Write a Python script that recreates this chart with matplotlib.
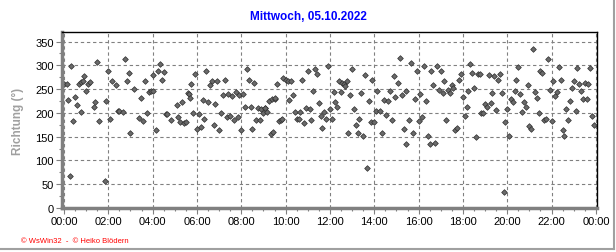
import numpy as np
import matplotlib
matplotlib.use("Agg")
import matplotlib.pyplot as plt
from matplotlib.ticker import MultipleLocator, FuncFormatter

#********************************************#
# wind direction readings (hour of day, degrees)
hours = [0.0, 0.12, 0.18, 0.28, 0.33, 0.42, 0.5, 0.6, 0.67, 0.76, 0.78, 0.84, 0.91, 1.0,
         1.07, 1.19, 1.34, 1.4, 1.49, 1.58, 1.85, 1.9, 1.99, 2.07, 2.16, 2.34, 2.43, 2.48,
         2.66, 2.75, 2.84, 2.93, 2.97, 3.15, 3.4, 3.49, 3.55, 3.64, 3.73, 3.82, 3.91, 4.0,
         4.03, 4.13, 4.22, 4.31, 4.4, 4.49, 4.6, 4.65, 4.82, 5.1, 5.14, 5.23, 5.32, 5.41,
         5.5, 5.59, 5.64, 5.68, 5.73, 5.82, 5.91, 6.0, 6.09, 6.18, 6.27, 6.32, 6.41, 6.5,
         6.59, 6.68, 6.77, 6.82, 6.91, 7.0, 7.09, 7.18, 7.27, 7.36, 7.41, 7.5, 7.59, 7.68,
         7.77, 7.86, 7.91, 8.0, 8.09, 8.18, 8.27, 8.36, 8.45, 8.5, 8.59, 8.68, 8.77, 8.86,
         8.91, 9.0, 9.05, 9.09, 9.18, 9.27, 9.36, 9.4, 9.45, 9.5, 9.53, 9.62, 9.71, 9.8,
         9.85, 9.89, 10.0, 10.09, 10.14, 10.23, 10.32, 10.41, 10.5, 10.59, 10.64, 10.73,
         10.82, 10.91, 11.0, 11.09, 11.14, 11.23, 11.32, 11.41, 11.5, 11.59, 11.64, 11.73,
         11.82, 11.91, 12.0, 12.09, 12.18, 12.23, 12.32, 12.41, 12.5, 12.55, 12.64, 12.68,
         12.77, 12.82, 12.91, 13.0, 13.09, 13.18, 13.27, 13.32, 13.41, 13.5, 13.59, 13.68,
         13.77, 13.86, 13.91, 14.0, 14.09, 14.12, 14.26, 14.36, 14.45, 14.55, 14.64, 14.73,
         14.82, 14.91, 14.95, 15.05, 15.14, 15.23, 15.32, 15.41, 15.45, 15.55, 15.64, 15.73,
         15.82, 15.91, 16.0, 16.05, 16.14, 16.23, 16.32, 16.41, 16.5, 16.55, 16.64, 16.73,
         16.82, 16.91, 17.0, 17.09, 17.14, 17.23, 17.32, 17.41, 17.5, 17.55, 17.64, 17.73,
         17.82, 17.91, 18.0, 18.09, 18.18, 18.23, 18.32, 18.41, 18.5, 18.59, 18.68, 18.77,
         18.82, 18.91, 19.0, 19.09, 19.18, 19.28, 19.33, 19.42, 19.51, 19.6, 19.69, 19.78,
         19.87, 19.91, 20.0, 20.09, 20.18, 20.27, 20.36, 20.4, 20.49, 20.58, 20.67, 20.76,
         20.85, 20.94, 21.0, 21.07, 21.16, 21.25, 21.34, 21.43, 21.48, 21.57, 21.66, 21.75,
         21.84, 21.93, 22.03, 22.07, 22.15, 22.24, 22.33, 22.42, 22.51, 22.55, 22.64, 22.73,
         22.82, 22.91, 23.0, 23.09, 23.13, 23.22, 23.31, 23.4, 23.49, 23.58, 23.63, 23.72,
         23.81, 23.9]
richtung = [261, 260, 228, 68, 298, 182, 234, 216, 260, 265, 201, 268, 277, 247,
            260, 264, 213, 222, 306, 182, 57, 224, 289, 187, 266, 258, 204, 204,
            201, 313, 268, 283, 158, 251, 189, 232, 182, 268, 199, 244, 245, 279,
            245, 163, 289, 302, 270, 285, 197, 198, 185, 216, 192, 180, 223, 179,
            181, 242, 240, 232, 260, 199, 281, 167, 197, 171, 226, 188, 289, 222,
            258, 268, 175, 218, 268, 163, 199, 237, 270, 192, 240, 193, 235, 186,
            243, 192, 237, 163, 239, 213, 292, 270, 213, 166, 262, 186, 211, 184,
            209, 199, 211, 211, 202, 224, 156, 229, 159, 230, 232, 260, 182, 186,
            187, 273, 270, 267, 228, 266, 237, 201, 188, 188, 201, 270,
            178, 211, 289, 209, 186, 247, 292, 281, 220, 194, 169, 202,
            188, 298, 209, 188, 243, 222, 213, 266, 243, 263, 260, 256,
            268, 158, 237, 292, 209, 175, 158, 188, 241, 152, 279, 85,
            224, 180, 270, 180, 203, 247, 203, 158, 226, 196, 224, 245,
            186, 277, 234, 263, 315, 237, 167, 135, 247, 184, 304, 158,
            230, 289, 182, 239, 192, 298, 224, 152, 135, 289, 258, 137,
            298, 249, 289, 241, 268, 186, 249, 241, 258, 252, 164, 168,
            270, 281, 234, 194, 213, 247, 302, 283, 253, 150, 281, 281,
            199, 199, 218, 213, 279, 220, 241, 277, 206, 270, 281, 241,
            34, 180, 209, 152, 230, 222, 247, 270, 296, 239, 201, 222,
            213, 258, 172, 167, 334, 243, 232, 199, 287, 283, 186, 188,
            313, 249, 182, 268, 235, 244, 296, 270, 163, 152, 209, 186,
            224, 253, 266, 203, 294, 260, 247, 230, 263, 230, 260, 294,
            194, 175]

tick_hours = list(range(0, 25, 2))
tick_labels = ["%02d:00" % (h % 24) for h in tick_hours]

#********************************************#
plt.rcParams["font.family"] = ["Liberation Sans", "DejaVu Sans"]
fig = plt.figure(figsize=(6.16, 2.53), dpi=100)
ax = fig.add_axes([62/616, 1-209/253, (597-62)/616, (209-33)/253])

ax.plot(hours, richtung, linestyle='none', marker='D', markersize=2.9,
        markerfacecolor='#6a6a6a', markeredgecolor='#303030', markeredgewidth=0.5)

ax.set_xlim(-0.09, 24.05)
ax.set_ylim(0, 370)
ax.set_xticks(tick_hours)
ax.set_xticklabels(tick_labels)
ax.xaxis.set_minor_locator(MultipleLocator(0.5))
ax.yaxis.set_major_locator(MultipleLocator(50))
ax.yaxis.set_minor_locator(MultipleLocator(25))
ax.tick_params(axis='both', which='major', labelsize=8, length=4, width=0.8,
               color='#808080', pad=2)
ax.tick_params(axis='both', which='minor', length=2, width=0.8, color='#808080')
ax.grid(True, which='major', linestyle=(0, (3, 2.5)), color='#808080', linewidth=0.8)

for side in ['left', 'bottom']:
    ax.spines[side].set_color('#808080')
    ax.spines[side].set_linewidth(2.5)
for side in ['top', 'right']:
    ax.spines[side].set_color('black')
    ax.spines[side].set_linewidth(1.0)

ax.set_ylabel('Richtung (°)', color='#a0a0a0', fontweight='bold', fontsize=8.5, labelpad=8)
fig.text(0.5, 1-17/253, 'Mittwoch, 05.10.2022', color='#0000ff', fontweight='bold',
         fontsize=8.5, ha='center', va='center')
fig.text(21/616, 1-242/253, '© WsWin32  -  © Heiko Blödern', color='#ff0000',
         fontsize=5.5, ha='left', va='center')

# window border at right and bottom
fig.add_artist(plt.Line2D([613.5/616, 613.5/616], [1-250/253, 1], color='#a0a0a0',
                          linewidth=1.5, transform=fig.transFigure))
fig.add_artist(plt.Line2D([0, 613.5/616], [1-250/253, 1-250/253], color='#a0a0a0',
                          linewidth=1.5, transform=fig.transFigure))

fig.savefig("out.png", dpi=100)
